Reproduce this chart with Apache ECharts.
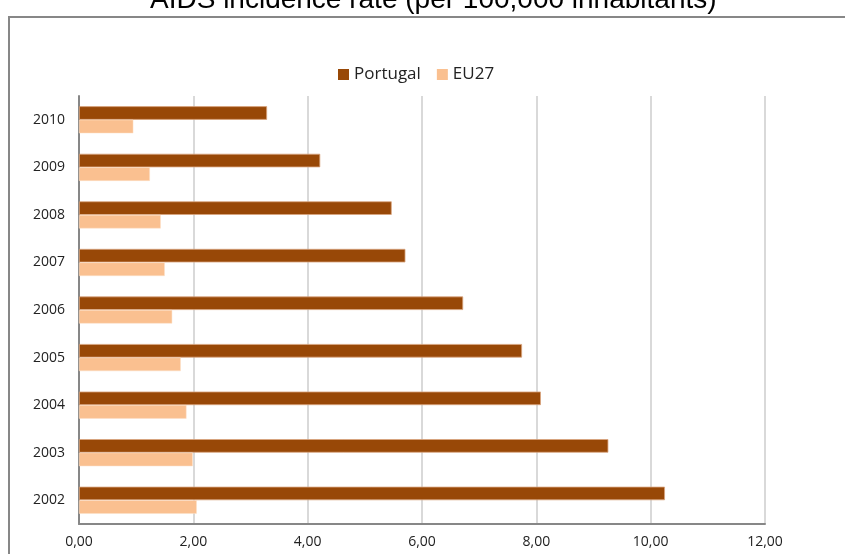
<!DOCTYPE html>
<html>
<head>
<meta charset="utf-8">
<script src="https://cdn.jsdelivr.net/npm/echarts@6/dist/echarts.min.js"></script>
<style>
  html, body { margin: 0; padding: 0; background: #fff; }
  #chart { width: 845px; height: 554px; }
</style>
</head>
<body>
<div id="chart"></div>
<script>
// AIDS incidence per 100,000 inhabitants, Portugal vs EU27
const years = ['2002', '2003', '2004', '2005', '2006', '2007', '2008', '2009', '2010'];
const portugal = [10.25, 9.26, 8.08, 7.75, 6.72, 5.71, 5.47, 4.22, 3.29];
const eu27 = [2.06, 1.99, 1.88, 1.78, 1.63, 1.50, 1.43, 1.24, 0.95];
const xTicks = [0, 2, 4, 6, 8, 10, 12];

const chart = echarts.init(document.getElementById('chart'));
const labelFont = '"Open Sans", sans-serif';

chart.setOption({
  animation: false,
  backgroundColor: '#ffffff',
  title: {
    text: 'AIDS incidence rate (per 100,000 inhabitants)',
    left: 145,
    top: -19,
    textStyle: {
      fontFamily: '"Liberation Sans", Arial, sans-serif',
      fontSize: 28,
      fontWeight: 'normal',
      color: '#000'
    }
  },
  graphic: [{
    type: 'rect',
    shape: { x: 9, y: 17, width: 900, height: 600 },
    style: { fill: 'none', stroke: '#878787', lineWidth: 2 },
    silent: true,
    z: -1
  }],
  legend: {
    data: ['Portugal', 'EU27'],
    top: 61,
    left: 333,
    itemWidth: 11,
    itemHeight: 11,
    itemGap: 16,
    icon: 'rect',
    itemStyle: { borderWidth: 0 },
    textStyle: { fontFamily: labelFont, fontSize: 17, color: '#222' }
  },
  grid: { left: 79, right: 80, top: 96, bottom: 30 },
  xAxis: {
    type: 'value',
    min: xTicks[0],
    max: xTicks[xTicks.length - 1],
    interval: 2,
    axisLine: { show: true, lineStyle: { color: '#878787', width: 2 } },
    axisTick: { show: false },
    splitLine: { show: true, lineStyle: { color: '#d9d9d9', width: 2 } },
    axisLabel: {
      margin: 11,
      fontFamily: labelFont,
      fontSize: 14,
      color: '#222',
      formatter: v => v.toFixed(2).replace('.', ',')
    }
  },
  yAxis: {
    type: 'category',
    data: years,
    axisLine: { show: true, lineStyle: { color: '#878787', width: 2 } },
    axisTick: { show: false },
    axisLabel: { margin: 14, fontFamily: labelFont, fontSize: 14, color: '#222' }
  },
  series: [
    {
      name: 'Portugal',
      type: 'bar',
      data: portugal,
      barGap: '0%',
      barCategoryGap: '43%',
      itemStyle: { color: '#984807', borderColor: '#d9a47f', borderWidth: 0.8 }
    },
    {
      name: 'EU27',
      type: 'bar',
      data: eu27,
      barGap: '0%',
      barCategoryGap: '43%',
      itemStyle: { color: '#fac090', borderColor: '#fde0c8', borderWidth: 0.5 }
    }
  ]
});
</script>
</body>
</html>
